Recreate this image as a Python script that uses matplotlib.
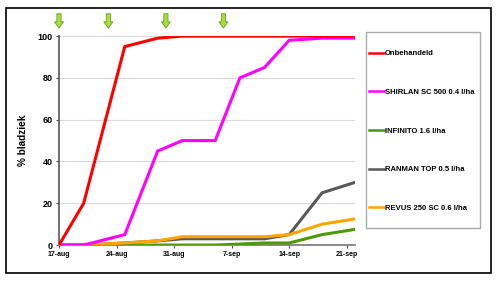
import matplotlib
matplotlib.use('Agg')
import matplotlib.pyplot as plt
from matplotlib.patches import Rectangle
import pandas as pd

plt.rcParams['font.family'] = ['Liberation Sans', 'DejaVu Sans']
plt.rcParams['font.weight'] = 'bold'

# observation dates and % bladziek per treatment
dates = pd.to_datetime(['2012-08-17', '2012-08-20', '2012-08-25', '2012-08-29', '2012-09-01',
                        '2012-09-05', '2012-09-08', '2012-09-11', '2012-09-14', '2012-09-18',
                        '2012-09-22'])
onbehandeld = [0, 20, 95, 99, 100, 100, 100, 100, 100, 100, 100]
shirlan = [0, 0, 5, 45, 50, 50, 80, 85, 98, 99, 99]
infinito = [0, 0, 0, 0, 0, 0, 0.5, 1, 1, 5, 7.5]
ranman = [0, 0, 1, 2, 3, 3, 3, 3, 5, 25, 30]
revus = [0, 0, 1, 2, 4, 4, 4, 4, 5, 10, 12.5]

labels = ['Onbehandeld', 'SHIRLAN SC 500 0.4 l/ha', 'INFINITO 1.6 l/ha',
          'RANMAN TOP 0.5 l/ha', 'REVUS 250 SC 0.6 l/ha']
colors = ['#ff0000', '#ff00ff', '#4e9a06', '#595959', '#ffa500']

# spray moments (green arrows)
spray_dates = pd.to_datetime(['2012-08-17', '2012-08-23', '2012-08-30', '2012-09-06'])

tick_dates = pd.to_datetime(['2012-08-17', '2012-08-24', '2012-08-31', '2012-09-07',
                             '2012-09-14', '2012-09-21'])
tick_labels = ['17-aug', '24-aug', '31-aug', '7-sep', '14-sep', '21-sep']

fig = plt.figure(figsize=(5, 2.82), dpi=100)
ax = fig.add_axes([0.118, 0.131, 0.592, 0.741])

series = [onbehandeld, shirlan, infinito, ranman, revus]
# draw back to front so red/magenta sit on top like the original
order = [2, 3, 4, 1, 0]
handles = {}
for i in order:
    h, = ax.plot(dates, series[i], color=colors[i], lw=2.2, label=labels[i],
                 solid_joinstyle='miter', zorder=3 + (i == 0))
    handles[i] = h

ax.set_xlim(pd.Timestamp('2012-08-17'), pd.Timestamp('2012-09-22'))
ax.set_ylim(0, 100)
ax.set_yticks([0, 20, 40, 60, 80, 100])
ax.set_xticks(tick_dates)
ax.set_xticklabels(tick_labels, fontsize=5, fontweight='bold')
ax.tick_params(axis='y', labelsize=6.5, length=2.5, width=0.8, color='#555555', pad=2)
ax.tick_params(axis='x', length=2.5, width=0.8, color='#555555', pad=2)
ax.set_ylabel('% bladziek', fontsize=7.2, fontweight='bold', labelpad=7)

ax.grid(axis='y', color='#d9d9d9', lw=0.8)
ax.set_axisbelow(True)
for s in ['top', 'right']:
    ax.spines[s].set_visible(False)
ax.spines['left'].set_color('#555555')
ax.spines['left'].set_linewidth(1.2)
ax.spines['bottom'].set_color('#777777')
ax.spines['bottom'].set_linewidth(1.2)

for d in spray_dates:
    ax.annotate('', xy=(d, 1.025), xytext=(d, 1.12), xycoords=('data', 'axes fraction'),
                textcoords=('data', 'axes fraction'), annotation_clip=False,
                arrowprops=dict(arrowstyle='simple,head_width=0.65,head_length=0.45,tail_width=0.3',
                                fc='#a6e03c', ec='#6a9a1a', lw=0.6))

# legend frame drawn separately so the padding matches the original box
fig.patches.append(Rectangle((0.732, 0.191), 0.228, 0.696, transform=fig.transFigure,
                             fill=False, ec='#aaaaaa', lw=1.0))
leg = fig.legend([handles[i] for i in range(5)], labels, loc='upper left',
                 bbox_to_anchor=(0.738, 0.823), fontsize=5.5, frameon=False,
                 handlelength=2.0, handletextpad=0.1, labelspacing=4.1,
                 borderpad=0, borderaxespad=0)
for t in leg.get_texts():
    t.set_fontweight('bold')
for ln in leg.get_lines():
    ln.set_linewidth(1.8)

fig.patches.append(Rectangle((0.012, 0.032), 0.97, 0.94, transform=fig.transFigure,
                             fill=False, ec='black', lw=1.2))

fig.savefig('out.png', dpi=100)
